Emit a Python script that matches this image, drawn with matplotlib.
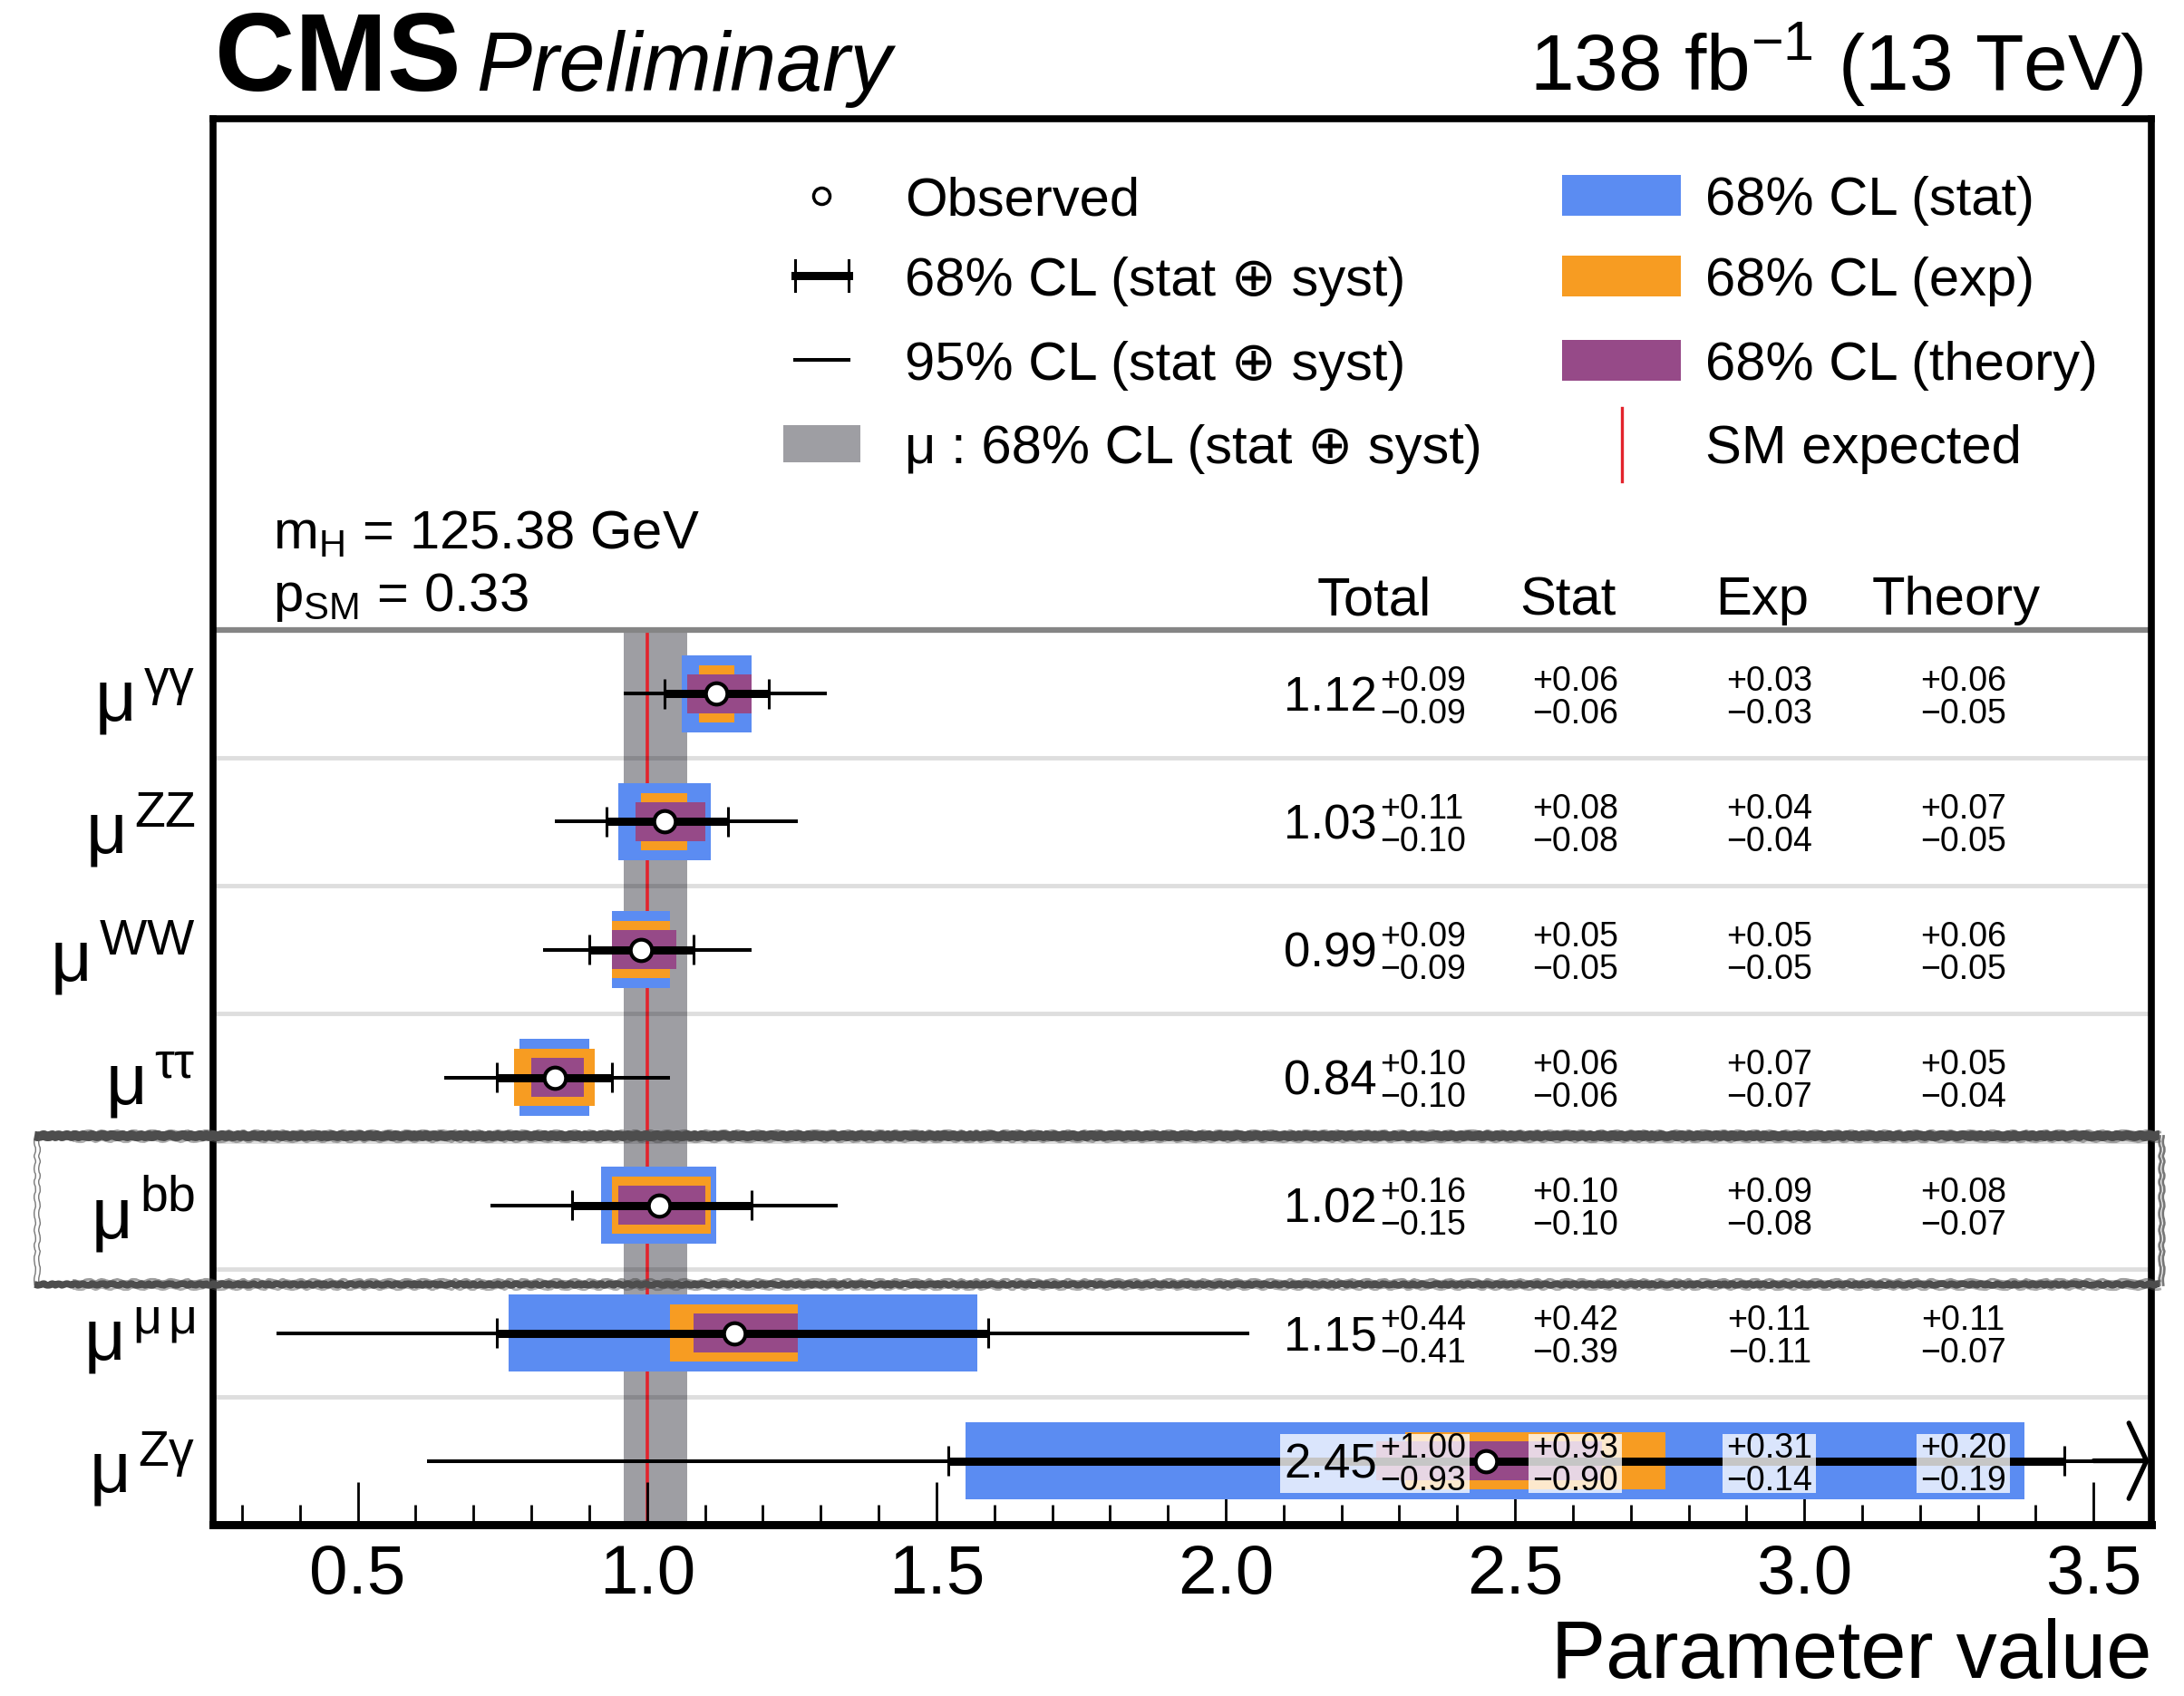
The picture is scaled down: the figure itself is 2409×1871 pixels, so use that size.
import matplotlib
matplotlib.use('Agg')
import matplotlib.pyplot as plt
import numpy as np
from matplotlib.patches import Rectangle
from matplotlib.ticker import MultipleLocator
from matplotlib.transforms import Bbox

plt.rcParams['font.family'] = ['Liberation Sans', 'DejaVu Sans']
plt.rcParams['mathtext.fontset'] = 'custom'
plt.rcParams['mathtext.rm'] = 'Liberation Sans'
plt.rcParams['mathtext.it'] = 'Liberation Sans:italic'
plt.rcParams['mathtext.bf'] = 'Liberation Sans:bold'
plt.rcParams['mathtext.default'] = 'regular'

# signal strength per decay channel
channels = ['γγ', 'ZZ', 'WW', 'ττ', 'bb', 'μ\\,μ', 'Zγ']
mu_obs = np.array([1.12, 1.03, 0.99, 0.84, 1.02, 1.15, 2.45])
tot_hi = np.array([0.09, 0.11, 0.09, 0.10, 0.16, 0.44, 1.00])
tot_lo = np.array([0.09, 0.10, 0.09, 0.10, 0.15, 0.41, 0.93])
stat_hi = np.array([0.06, 0.08, 0.05, 0.06, 0.10, 0.42, 0.93])
stat_lo = np.array([0.06, 0.08, 0.05, 0.06, 0.10, 0.39, 0.90])
exp_hi = np.array([0.03, 0.04, 0.05, 0.07, 0.09, 0.11, 0.31])
exp_lo = np.array([0.03, 0.04, 0.05, 0.07, 0.08, 0.11, 0.14])
th_hi = np.array([0.06, 0.07, 0.06, 0.05, 0.08, 0.11, 0.20])
th_lo = np.array([0.05, 0.05, 0.05, 0.04, 0.07, 0.07, 0.19])
cl95_lo = np.array([0.96, 0.84, 0.82, 0.65, 0.73, 0.36, 0.62])
cl95_hi = [1.31, 1.26, 1.18, 1.04, 1.33, 2.04, None]  # None = beyond the axis
mu_incl = (0.96, 1.07)  # combined mu, 68% CL
m_h = 125.38
p_sm = 0.33
xticks = [0.5, 1.0, 1.5, 2.0, 2.5, 3.0, 3.5]
columns = ['Total', 'Stat', 'Exp', 'Theory']

blue = '#5b8cf2'
orange = '#f79c22'
purple = '#964a88'
grey = '#9e9ea3'
red = '#e3232c'

fig = plt.figure(figsize=(24.09, 18.71), dpi=100)
ax = fig.add_axes([0.0976, 0.101, 0.8875, 0.829])
ax.set_xlim(0.25, 3.6)
ax.set_ylim(6.5, -4.5)
rows = np.arange(len(channels))
tr = ax.get_yaxis_transform()
xmax = ax.get_xlim()[1]

# combined band, SM line, header line and row separators
ax.fill_betweenx([-0.5, 6.5], mu_incl[0], mu_incl[1], color=grey, lw=0, zorder=1)
ax.plot([1, 1], [-0.5, 6.5], color=red, lw=2.6, zorder=1.5)
ax.plot([0, 1], [-0.5, -0.5], transform=tr, color='#858585', lw=4.5, zorder=2)
for s in rows[:-1] + 0.5:
    ax.plot([0, 1], [s, s], transform=tr, color='black', alpha=0.13, lw=3.5, zorder=2)

# uncertainty boxes
ax.barh(rows, stat_hi + stat_lo, left=mu_obs - stat_lo, height=0.6, color=blue, zorder=3)
ax.barh(rows, exp_hi + exp_lo, left=mu_obs - exp_lo, height=0.45, color=orange, zorder=3.1)
ax.barh(rows, th_hi + th_lo, left=mu_obs - th_lo, height=0.3, color=purple, zorder=3.2)

# error bars
hi95 = np.array([xmax if v is None else v for v in cl95_hi])
ax.hlines(rows, cl95_lo, hi95, color='black', lw=2.9, zorder=4)
ax.hlines(rows, mu_obs - tot_lo, mu_obs + tot_hi, color='black', lw=6.5, zorder=4.1)
ax.vlines(mu_obs - tot_lo, rows - 0.12, rows + 0.12, color='black', lw=2.2, zorder=4.1)
ax.vlines(mu_obs + tot_hi, rows - 0.12, rows + 0.12, color='black', lw=2.2, zorder=4.1)
for r, v in zip(rows, cl95_hi):
    if v is None:
        ax.annotate('', xy=(xmax - 0.004, r), xytext=(xmax - 0.1, r), annotation_clip=False,
                    arrowprops=dict(arrowstyle='->,head_length=0.35,head_width=0.75', color='black',
                                    lw=3.8, shrinkA=0, shrinkB=0, mutation_scale=40), zorder=4.2)
ax.plot(mu_obs, rows, 'o', ms=17, mfc='white', mec='black', mew=3, zorder=6)


# numbers on the right
def two_line(x, y, hi, lo, ha):
    t1 = ax.text(x, y - 0.024, f'+{hi:.2f}', fontsize=27, ha=ha, va='baseline', transform=tr, zorder=8)
    t2 = ax.text(x, y + 0.23, f'\u2212{lo:.2f}', fontsize=27, ha=ha, va='baseline', transform=tr, zorder=8)
    return [t1, t2]


groups = []
for r in rows:
    big = ax.text(0.6005, r + 0.134, f'{mu_obs[r]:.2f}', fontsize=38, ha='right', va='baseline',
                  transform=tr, zorder=8)
    groups.append([big] + two_line(0.602, r, tot_hi[r], tot_lo[r], 'left'))
    groups.append(two_line(0.7028, r, stat_hi[r], stat_lo[r], 'center'))
    groups.append(two_line(0.8029, r, exp_hi[r], exp_lo[r], 'center'))
    groups.append(two_line(0.903, r, th_hi[r], th_lo[r], 'center'))

for x, lab in zip([0.599, 0.699, 0.799, 0.899], columns):
    ax.text(x, -0.62, lab, fontsize=43, ha='center', va='baseline', transform=tr)
ax.text(0.031, -1.13, f'$m_H$ = {m_h} GeV', fontsize=43, va='baseline', transform=tr)
ax.text(0.031, -0.65, f'$p_{{SM}}$ = {p_sm}', fontsize=43, va='baseline', transform=tr)

# legend drawn by hand
leg_y = [-3.90, -3.27, -2.61, -1.96]
off = 0.152
ax.plot([0.314], [leg_y[0]], 'o', transform=tr, ms=13, mfc='white', mec='black', mew=2.5)
ax.plot([0.30, 0.328], [leg_y[1]] * 2, transform=tr, color='black', lw=6.5)
ax.plot([0.30, 0.30], [leg_y[1] - 0.12, leg_y[1] + 0.12], transform=tr, color='black', lw=2.2)
ax.plot([0.328, 0.328], [leg_y[1] - 0.12, leg_y[1] + 0.12], transform=tr, color='black', lw=2.2)
ax.plot([0.30, 0.328], [leg_y[2]] * 2, transform=tr, color='black', lw=2.9)
ax.add_patch(Rectangle((0.294, leg_y[3] - 0.145), 0.04, 0.29, transform=tr, color=grey, lw=0))
col1 = ['Observed', '68% CL (stat ⊕ syst)', '95% CL (stat ⊕ syst)', 'μ : 68% CL (stat ⊕ syst)']
for y, lab in zip(leg_y, col1):
    ax.text(0.357, y + off, lab, fontsize=43, va='baseline', transform=tr)
for y, c in zip(leg_y[:3], [blue, orange, purple]):
    ax.add_patch(Rectangle((0.696, y - 0.16), 0.061, 0.32, transform=tr, color=c, lw=0))
ax.plot([0.727, 0.727], [-2.24, -1.66], transform=tr, color=red, lw=2.4)
col2 = ['68% CL (stat)', '68% CL (exp)', '68% CL (theory)', 'SM expected']
for y, lab in zip(leg_y, col2):
    ax.text(0.770, y + off, lab, fontsize=43, va='baseline', transform=tr)

# axes styling
ax.set_yticks(rows)
ax.set_yticklabels([f'$μ^{{\\,{c}}}$' for c in channels], fontsize=57)
ax.set_xticks(xticks)
ax.set_xticklabels([f'{t:.1f}' for t in xticks])
ax.xaxis.set_minor_locator(MultipleLocator(0.1))
ax.tick_params(axis='x', which='major', direction='in', length=34, width=2, labelsize=55, pad=15)
ax.tick_params(axis='x', which='minor', direction='in', length=16, width=2)
ax.tick_params(axis='y', length=0, pad=14)
for s in ax.spines.values():
    s.set_linewidth(5.5)
ax.spines['bottom'].set_linewidth(6.5)
ax.set_xlabel('Parameter value', fontsize=65, loc='right', labelpad=8)

fig.text(0.0985, 0.9466, 'CMS', fontsize=88, fontweight='bold', va='baseline')
fig.text(0.218, 0.9466, 'Preliminary', fontsize=66, style='italic', va='baseline')
fig.text(0.9817, 0.9466, '138 fb$^{-1}$ (13 TeV)', fontsize=63, ha='right', va='baseline')

# translucent boxes behind the numbers
fig.canvas.draw()
renderer = fig.canvas.get_renderer()
inv = ax.transAxes.inverted()
for g in groups:
    bb = Bbox.union([t.get_window_extent(renderer) for t in g])
    (x0, y0), (x1, y1) = inv.transform([[bb.x0 - 4, bb.y0 + 5], [bb.x1 + 4, bb.y1 - 2]])
    ax.add_patch(Rectangle((x0, y0), x1 - x0, y1 - y0, transform=ax.transAxes, facecolor='white',
                           alpha=0.78, edgecolor='none', zorder=5.5))

# sketched highlight around the bb row
hl_rows = (3.46, 4.62)
hl_x = (-0.092, 1.004)
hl_col = '#4d4d4d'
for yy, w in zip(hl_rows, (7.5, 5.5)):
    ln, = ax.plot(hl_x, [yy, yy], transform=tr, color=hl_col, lw=w, clip_on=False, zorder=20,
                  solid_capstyle='butt')
    ln.set_sketch_params(0.8, 12, 3)
    for dy, a in ((-0.035, 0.55), (0.03, 0.45)):
        ln2, = ax.plot([hl_x[0] + 0.02, hl_x[1]], [yy + dy, yy + dy], transform=tr, color=hl_col,
                       lw=2.0, alpha=a, clip_on=False, zorder=20)
        ln2.set_sketch_params(1.2, 25, 4)
for xx, w in zip(hl_x, (1.0, 2.0)):
    for dx in (0.0, 0.002):
        lv, = ax.plot([xx + dx] * 2, hl_rows, transform=tr, color='#555555', lw=w, clip_on=False,
                      zorder=20, alpha=0.8)
        lv.set_sketch_params(0.8, 20, 3)

fig.savefig('out.png', dpi=100)
